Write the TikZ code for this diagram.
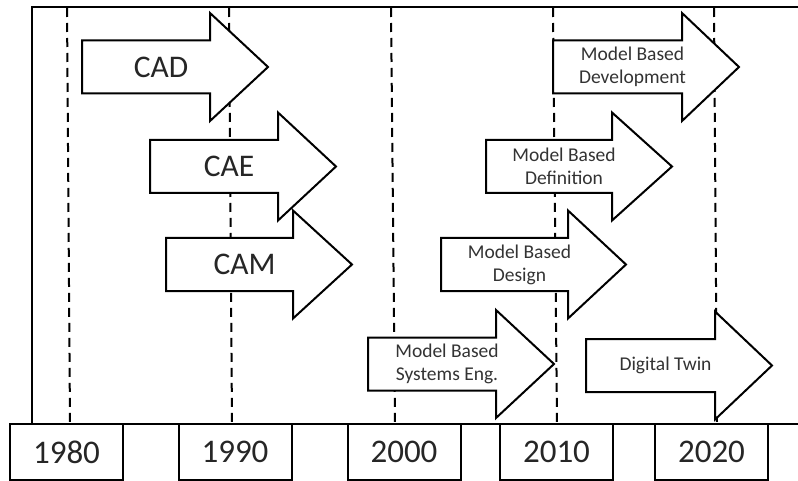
\documentclass[tikz,border=0pt]{standalone}
\usepackage{fontspec}
\setmainfont{Carlito}
\begin{document}
\begin{tikzpicture}[x=1pt,y=-1pt,
  frameline/.style={line width=2pt,line cap=rect},
  yearline/.style={line width=2pt,dash pattern=on 9pt off 6pt},
  arrowline/.style={draw,line width=2pt,fill=white,line join=miter},
  yearbox/.style={draw,line width=2pt,fill=white,minimum width=113pt,minimum height=56pt,
    inner sep=0pt,font=\fontsize{33}{33}\selectfont,text=black!85},
  bigtext/.style={font=\fontsize{31.5}{31.5}\selectfont,text=black!85,inner sep=0pt},
  smalltext/.style={font=\fontsize{19.5}{23}\selectfont,text=black!80,align=center,inner sep=0pt}]
\useasboundingbox (0,0) rectangle (798,481);

% outer frame
\coordinate (ftl) at (32,7);
\coordinate (ftr) at (798,7);
\coordinate (fbl) at (32,424);
\coordinate (bl) at (10,424);
\coordinate (br) at (798,424);
\draw[frameline] (fbl) -- (ftl) -- (ftr);
\draw[frameline] (bl) -- (br);

% decade guide lines
\foreach \n/\xt/\xb in {a/67/70,b/229/232,c/391/395,d/553/557,e/714/717}{
  \coordinate (top\n) at (\xt,8);
  \coordinate (bot\n) at (\xb,423);
  \draw[yearline] (top\n) -- (bot\n);
}

% block arrow: name, left x, mid y, head base x, tip x, label style, label
\newcommand{\tlarrow}[7]{%
  \draw[arrowline] (#2,#3-26.5) -- (#4,#3-26.5) -- (#4,#3-54) -- (#5,#3)
    -- (#4,#3+54) -- (#4,#3+26.5) -- (#2,#3+26.5) -- cycle;
  \node[#6] (#1) at ({(#2+#4)/2+15},#3) {#7};}

\tlarrow{cad}{82}{67}{210}{268}{bigtext}{CAD}
\tlarrow{cae}{150}{166.5}{278}{336}{bigtext}{CAE}
\tlarrow{cam}{166}{264.5}{293}{352}{bigtext}{CAM}
\tlarrow{mbdev}{553}{67}{682}{739}{smalltext}{Model Based\\Development}
\tlarrow{mbdef}{486}{166.5}{612}{672}{smalltext}{Model Based\\Definition}
\tlarrow{mbdes}{441}{264.5}{568}{626}{smalltext}{Model Based\\Design}
\tlarrow{mbse}{368}{364}{496}{554}{smalltext}{Model Based\\Systems Eng.}
\tlarrow{twin}{586}{365.5}{715}{772}{smalltext}{Digital Twin}

% decade labels
\node[yearbox] (y1980) at (66.5,452) {1980};
\node[yearbox] (y1990) at (235,452) {1990};
\node[yearbox] (y2000) at (404,452) {2000};
\node[yearbox] (y2010) at (556.5,452) {2010};
\node[yearbox] (y2020) at (711.5,452) {2020};
\end{tikzpicture}
\end{document}
